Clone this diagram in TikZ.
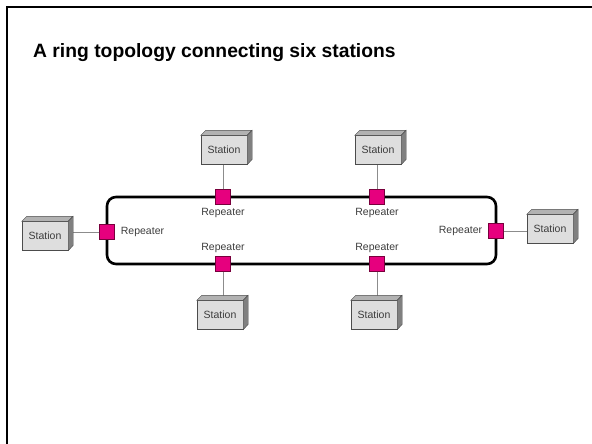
\documentclass[tikz,border=0pt]{standalone}
\usepackage{fontspec}
\setmainfont{Liberation Sans}
\usetikzlibrary{positioning}
\definecolor{rpink}{RGB}{230, 0, 126}
\definecolor{rdark}{RGB}{120, 0, 60}
\definecolor{sfront}{RGB}{222, 222, 222}
\definecolor{stop}{RGB}{178, 178, 178}
\definecolor{sside}{RGB}{128, 128, 128}
\definecolor{ltext}{RGB}{60, 60, 60}
\tikzset{
	station/.style = {draw = black!70, fill = sfront, minimum width = 46pt, minimum height = 29pt, inner sep = 0pt, font = \fontsize{10.5}{12}\selectfont, text = ltext},
	repeater/.style = {draw = rdark, fill = rpink, minimum size = 15pt, inner sep = 0pt},
	replabel/.style = {font = \fontsize{10.5}{12}\selectfont, text = ltext, inner sep = 1pt},
	wire/.style = {draw = black!45, line width = 0.8pt}
}

\begin{document}
\begin{tikzpicture}[x = 1pt, y = -1pt]
			\useasboundingbox (0,0) rectangle (592,444);
			\draw[line width = 2.2pt] (592,7) -- (7,7) -- (7,444);
			\node (title) at (33,58) [anchor = base west, inner sep = 0pt, font = \bfseries\fontsize{19.3}{23}\selectfont] {A ring topology connecting six stations};
			\draw[line width = 2.6pt, rounded corners = 9pt] (107,197) rectangle (496,264);
			\node (r1) at (223,197) [repeater] {};
			\node (r2) at (377,197) [repeater] {};
			\node (r3) at (107,232) [repeater] {};
			\node (r4) at (223,264) [repeater] {};
			\node (r5) at (377,264) [repeater] {};
			\node (r6) at (496,231) [repeater] {};
			\node (l1) [replabel, below = 2pt of r1] {Repeater};
			\node (l2) [replabel, below = 2pt of r2] {Repeater};
			\node (l3) [replabel, right = 5pt of r3] {Repeater};
			\node (l4) [replabel, above = 2pt of r4] {Repeater};
			\node (l5) [replabel, above = 2pt of r5] {Repeater};
			\node (l6) [replabel, left = 5pt of r6] {Repeater};
			\node (s1) at (224,150) [station] {Station};
			\node (s2) at (378,150) [station] {Station};
			\node (s3) at (45,236) [station] {Station};
			\node (s4) at (220,315) [station] {Station};
			\node (s5) at (374,315) [station] {Station};
			\node (s6) at (550,229) [station] {Station};
			\draw[wire] (r1.north) -- (r1.north |- s1.south);
			\draw[wire] (r2.north) -- (r2.north |- s2.south);
			\draw[wire] (r3.west) -- (r3.west -| s3.east);
			\draw[wire] (r4.south) -- (r4.south |- s4.north);
			\draw[wire] (r5.south) -- (r5.south |- s5.north);
			\draw[wire] (r6.east) -- (r6.east -| s6.west);
			\foreach \s in {s1,s2,s3,s4,s5,s6} {
				\draw[black!70, fill = stop] (\s.north west) -- ++(5,-5) -- ++(46,0) -- (\s.north east) -- cycle;
				\draw[black!70, fill = sside] (\s.north east) -- ++(5,-5) -- ++(0,29) -- (\s.south east) -- cycle;
			}
			\end{tikzpicture}
\end{document}
